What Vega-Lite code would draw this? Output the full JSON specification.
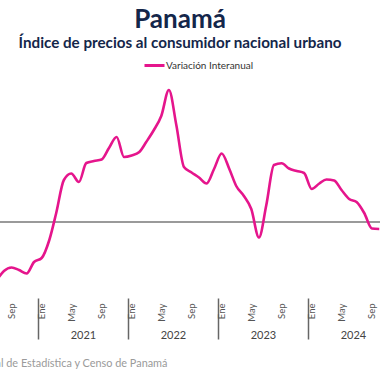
{
  "$schema": "https://vega.github.io/schema/vega-lite/v6.json",
  "width": 380,
  "height": 218,
  "autosize": {"type": "none"},
  "padding": {"left": 0, "top": 80, "right": 0, "bottom": 82},
  "background": "white",
  "config": {"view": {"stroke": null}, "font": "Lato"},
  "title": {
    "text": "Panamá",
    "subtitle": "Índice de precios al consumidor nacional urbano",
    "anchor": "middle",
    "font": "Lato",
    "fontSize": 26,
    "fontWeight": "bold",
    "color": "#14264a",
    "subtitleFont": "Lato",
    "subtitleFontSize": 15.2,
    "subtitleFontWeight": "bold",
    "subtitleColor": "#14264a",
    "subtitlePadding": 3,
    "offset": 3,
    "dx": -10
  },
  "resolve": {"axis": {"x": "independent"}},
  "layer": [
    {
      "data": {"values": [{}]},
      "mark": {"type": "rule", "color": "#9a9a9a", "strokeWidth": 2},
      "encoding": {
        "y": {"datum": 0, "type": "quantitative", "scale": {"domain": [-3.04, 5.68], "nice": false, "zero": false}, "axis": null},
        "x": {
          "datum": {"year": 2020, "month": 7, "date": 31, "utc": true},
          "type": "temporal",
          "axis": {
            "orient": "bottom",
            "values": [
              {"year": 2020, "month": 1, "date": 1, "utc": true},
              {"year": 2021, "month": 1, "date": 1, "utc": true},
              {"year": 2022, "month": 1, "date": 1, "utc": true},
              {"year": 2023, "month": 1, "date": 1, "utc": true},
              {"year": 2024, "month": 1, "date": 1, "utc": true}
            ],
            "labelExpr": "'' + utcyear(datum.value)",
            "tickSize": 41,
            "tickWidth": 1.5,
            "tickColor": "#666666",
            "labelOffset": 45,
            "labelPadding": -10,
            "labelFontSize": 11,
            "labelColor": "#444444",
            "labelFont": "Lato",
            "domain": false,
            "grid": false,
            "labelFlush": false,
            "labelOverlap": false,
            "labelBound": false,
            "title": "Fuente: Instituto Nacional de Estadística y Censo de Panamá",
            "titleX": 167,
            "titleY": 68,
            "titleAlign": "right",
            "titleBaseline": "alphabetic",
            "titleFontSize": 10.9,
            "titleFontWeight": "normal",
            "titleColor": "#9a9a9a",
            "titleFont": "Lato"
          }
        },
        "x2": {"datum": {"year": 2024, "month": 10, "date": 19, "utc": true}}
      }
    },
    {
      "data": {
        "values": [
          {"date": "2020-07-16", "value": -2.36},
          {"date": "2020-08-16", "value": -1.96},
          {"date": "2020-09-16", "value": -1.82},
          {"date": "2020-10-16", "value": -1.92},
          {"date": "2020-11-16", "value": -2.06},
          {"date": "2020-12-16", "value": -1.60},
          {"date": "2021-01-16", "value": -1.44},
          {"date": "2021-02-16", "value": -0.72},
          {"date": "2021-03-16", "value": 0.36},
          {"date": "2021-04-16", "value": 1.68},
          {"date": "2021-05-16", "value": 1.94},
          {"date": "2021-06-16", "value": 1.60},
          {"date": "2021-07-16", "value": 2.36},
          {"date": "2021-08-16", "value": 2.44},
          {"date": "2021-09-16", "value": 2.50},
          {"date": "2021-10-16", "value": 2.96},
          {"date": "2021-11-16", "value": 3.40},
          {"date": "2021-12-16", "value": 2.60},
          {"date": "2022-01-16", "value": 2.66},
          {"date": "2022-02-16", "value": 2.80},
          {"date": "2022-03-16", "value": 3.20},
          {"date": "2022-04-16", "value": 3.68},
          {"date": "2022-05-16", "value": 4.24},
          {"date": "2022-06-16", "value": 5.28},
          {"date": "2022-07-16", "value": 3.88},
          {"date": "2022-08-16", "value": 2.20},
          {"date": "2022-09-16", "value": 1.98},
          {"date": "2022-10-16", "value": 1.78},
          {"date": "2022-11-16", "value": 1.54},
          {"date": "2022-12-16", "value": 2.12},
          {"date": "2023-01-16", "value": 2.74},
          {"date": "2023-02-16", "value": 2.12},
          {"date": "2023-03-16", "value": 1.44},
          {"date": "2023-04-16", "value": 1.04},
          {"date": "2023-05-16", "value": 0.52},
          {"date": "2023-06-16", "value": -0.62},
          {"date": "2023-07-16", "value": 0.68},
          {"date": "2023-08-16", "value": 2.28},
          {"date": "2023-09-16", "value": 2.35},
          {"date": "2023-10-16", "value": 2.14},
          {"date": "2023-11-16", "value": 2.04},
          {"date": "2023-12-16", "value": 1.96},
          {"date": "2024-01-16", "value": 1.32},
          {"date": "2024-02-16", "value": 1.54},
          {"date": "2024-03-16", "value": 1.70},
          {"date": "2024-04-16", "value": 1.66},
          {"date": "2024-05-16", "value": 1.28},
          {"date": "2024-06-16", "value": 0.92},
          {"date": "2024-07-16", "value": 0.80},
          {"date": "2024-08-16", "value": 0.36},
          {"date": "2024-09-16", "value": -0.26},
          {"date": "2024-10-16", "value": -0.28}
        ]
      },
      "mark": {"type": "line", "interpolate": "monotone", "strokeWidth": 2.6, "clip": true},
      "encoding": {
        "x": {
          "field": "date",
          "type": "temporal",
          "scale": {"domain": [{"year": 2020, "month": 7, "date": 31, "utc": true}, {"year": 2024, "month": 10, "date": 19, "utc": true}]},
          "axis": {
            "orient": "bottom",
            "values": [
              {"year": 2020, "month": 9, "date": 16, "utc": true},
              {"year": 2021, "month": 1, "date": 16, "utc": true},
              {"year": 2021, "month": 5, "date": 16, "utc": true},
              {"year": 2021, "month": 9, "date": 16, "utc": true},
              {"year": 2022, "month": 1, "date": 16, "utc": true},
              {"year": 2022, "month": 5, "date": 16, "utc": true},
              {"year": 2022, "month": 9, "date": 16, "utc": true},
              {"year": 2023, "month": 1, "date": 16, "utc": true},
              {"year": 2023, "month": 5, "date": 16, "utc": true},
              {"year": 2023, "month": 9, "date": 16, "utc": true},
              {"year": 2024, "month": 1, "date": 16, "utc": true},
              {"year": 2024, "month": 5, "date": 16, "utc": true},
              {"year": 2024, "month": 9, "date": 16, "utc": true}
            ],
            "labelExpr": "['Ene','Feb','Mar','Abr','May','Jun','Jul','Ago','Sep','Oct','Nov','Dic'][utcmonth(datum.value)]",
            "labelAngle": 270,
            "labelAlign": "right",
            "labelBaseline": "middle",
            "labelPadding": 5,
            "labelFontSize": 9.5,
            "labelColor": "#555555",
            "labelFont": "Lato",
            "ticks": false,
            "domain": false,
            "grid": false,
            "labelFlush": false,
            "labelOverlap": false,
            "labelBound": false,
            "title": null
          }
        },
        "y": {"field": "value", "type": "quantitative", "scale": {"domain": [-3.04, 5.68], "nice": false, "zero": false}, "axis": null},
        "color": {
          "datum": "Variación Interanual",
          "type": "nominal",
          "scale": {"range": ["#e5158c"]},
          "legend": {
            "orient": "none",
            "legendX": 143,
            "legendY": -26,
            "title": null,
            "symbolType": "stroke",
            "symbolStrokeWidth": 3,
            "symbolSize": 400,
            "labelFontSize": 10,
            "labelColor": "#333333",
            "labelFont": "Lato",
            "labelOffset": 0,
            "padding": 0
          }
        }
      }
    }
  ]
}
